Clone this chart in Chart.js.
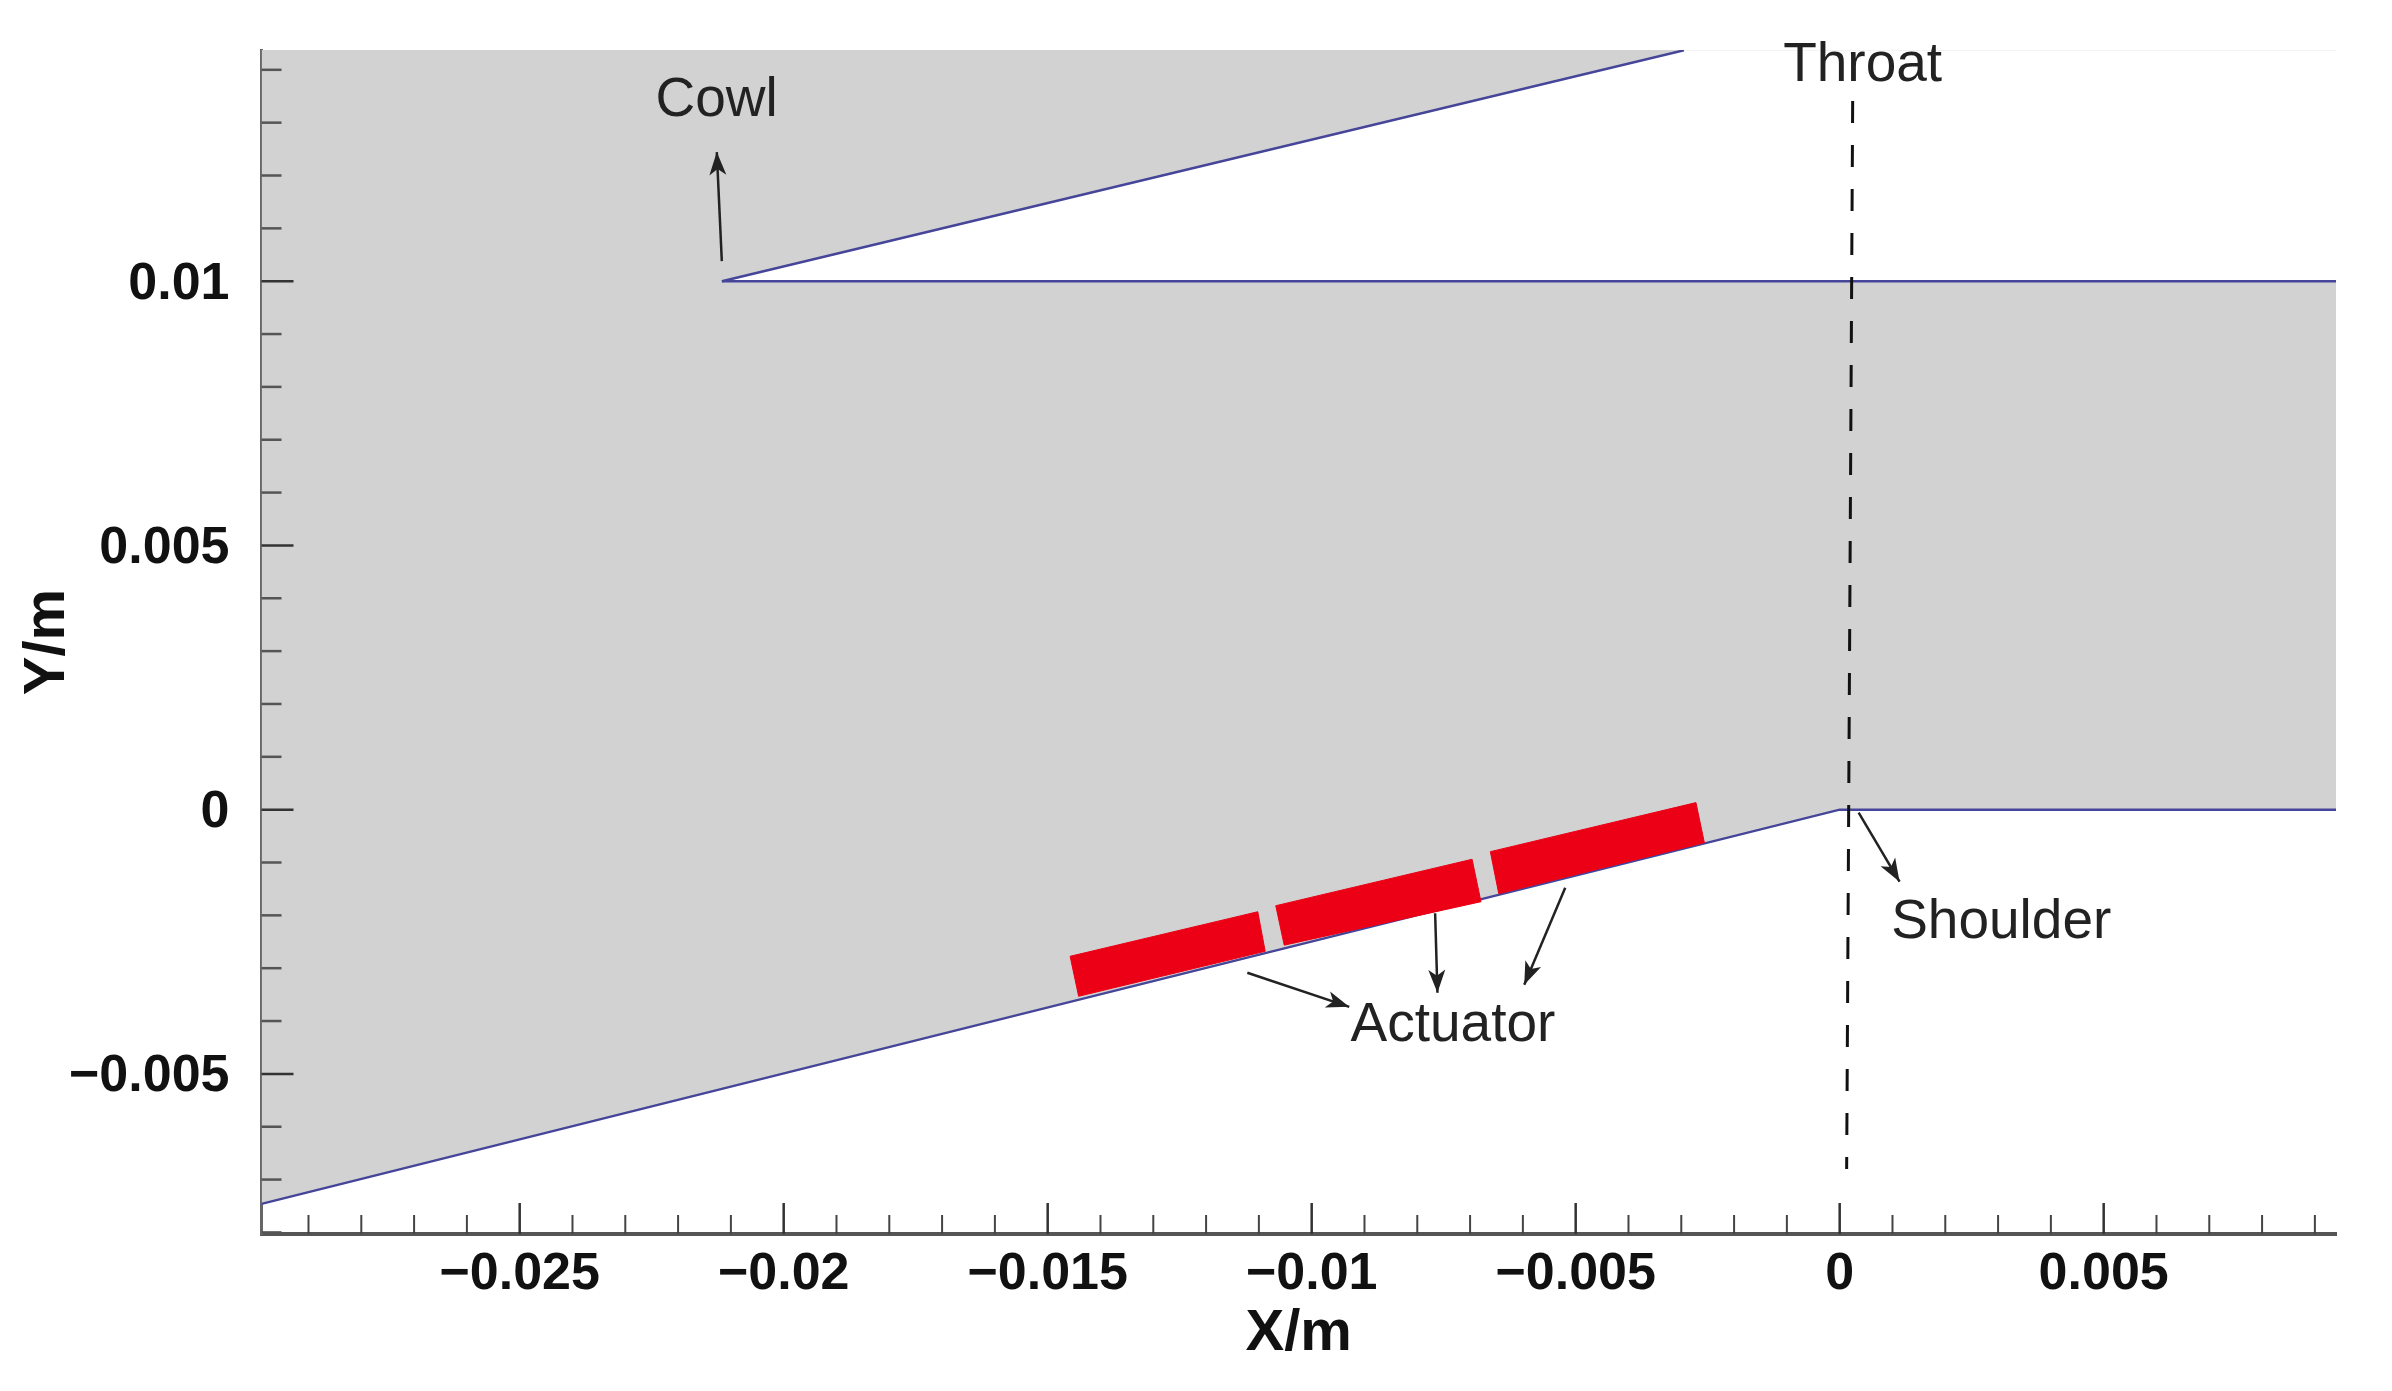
<!DOCTYPE html>
<html>
<head>
<meta charset="utf-8">
<title>Inlet geometry</title>
<script src="https://cdn.jsdelivr.net/npm/chart.js@4/dist/chart.umd.js"></script>
<style>
  html, body { margin: 0; padding: 0; background: #fff; }
  canvas { display: block; }
</style>
</head>
<body>
<canvas id="myChart" width="2392" height="1391"></canvas>
<script>
// axis range and ticks
const xRange = [-0.02989, 0.0094];
const yRange = [-0.00803, 0.014375];
const xMajor = [-0.025, -0.02, -0.015, -0.01, -0.005, 0, 0.005];
const yMajor = [-0.005, 0, 0.005, 0.01];
const xMinor = [-0.029, -0.028, -0.027, -0.026, -0.024, -0.023, -0.022, -0.021, -0.019, -0.018, -0.017, -0.016,
    -0.014, -0.013, -0.012, -0.011, -0.009, -0.008, -0.007, -0.006, -0.004, -0.003, -0.002, -0.001,
    0.001, 0.002, 0.003, 0.004, 0.006, 0.007, 0.008, 0.009];
const yMinor = [-0.008, -0.007, -0.006, -0.004, -0.003, -0.002, -0.001, 0.001, 0.002, 0.003, 0.004,
    0.006, 0.007, 0.008, 0.009, 0.011, 0.012, 0.013, 0.014];

// walls
const lowerWallX = [-0.02989, 0, 0.0094];
const lowerWallY = [-0.00746, 0, 0];
const cowlX = [-0.02117, -0.00295];
const cowlY = [0.01, 0.01437];
const ductTopX = [-0.02117, 0.0094];
const ductTopY = [0.01, 0.01];
const wedgeX = [-0.02117, -0.00295, 0.0094];
const wedgeY = [0.01, 0.01437, 0.01437];

// throat line
const throatX = [0.000246, 0.000132];
const throatY = [0.01341, -0.0068];

// actuators, corners in order BL, TL, TR, BR
const actuator1X = [-0.014414, -0.014575, -0.011021, -0.010881, -0.014414];
const actuator1Y = [-0.003532, -0.002775, -0.001932, -0.00268, -0.003532];
const actuator2X = [-0.01052, -0.01068, -0.006962, -0.006794, -0.01052];
const actuator2Y = [-0.002564, -0.001818, -0.000939, -0.001742, -0.002564];
const actuator3X = [-0.006457, -0.006616, -0.002722, -0.002563, -0.006457];
const actuator3Y = [-0.001591, -0.000795, 0.000133, -0.000625, -0.001591];

// arrows, tail then head
const arrowCowlX = [-0.021172, -0.021267];
const arrowCowlY = [0.010379, 0.012443];
const arrowShoulderX = [0.000359, 0.001134];
const arrowShoulderY = [-0.000057, -0.001364];
const arrowAct1X = [-0.011219, -0.009289];
const arrowAct1Y = [-0.003087, -0.003731];
const arrowAct2X = [-0.007662, -0.007618];
const arrowAct2Y = [-0.00196, -0.003466];
const arrowAct3X = [-0.005198, -0.005974];
const arrowAct3Y = [-0.001477, -0.003314];

// text labels
const noteLabels = ['Cowl', 'Throat', 'Actuator', 'Shoulder'];
const noteX = [-0.02127, 0.000435, -0.007325, 0.00306];
const noteY = [0.013404, 0.014067, -0.004087, -0.00214];

const toPoints = (xs, ys) => xs.map((x, i) => ({ x: x, y: ys[i] }));

const wallColor = '#45459a';
const lineSet = (xs, ys, extra) => Object.assign({
    data: toPoints(xs, ys),
    showLine: true,
    pointRadius: 0,
    borderWidth: 2.5,
    borderColor: wallColor,
    backgroundColor: 'transparent',
    fill: false
}, extra);

const arrowSet = (xs, ys) => lineSet(xs, ys, { borderColor: '#222', borderWidth: 2.5, isArrow: true, order: 1 });
const actuatorSet = (xs, ys) => lineSet(xs, ys, {
    borderColor: '#ec0016', borderWidth: 1, backgroundColor: '#ec0016', fill: 'shape', order: 3
});

const formatTick = (v) => {
    if (Math.abs(v) < 1e-9) return '0';
    return (v < 0 ? '\u2212' : '') + String(Math.abs(Number(v.toFixed(3))));
};

// inward tick marks and arrow heads and the notes, all placed through the scales
const overlayPlugin = {
    id: 'overlay',
    afterDatasetsDraw(chart) {
        const ctx = chart.ctx;
        const xs = chart.scales.x;
        const ys = chart.scales.y;
        const area = chart.chartArea;
        ctx.save();

        const tick = (x1, y1, x2, y2, color, width) => {
            ctx.strokeStyle = color;
            ctx.lineWidth = width;
            ctx.beginPath();
            ctx.moveTo(x1, y1);
            ctx.lineTo(x2, y2);
            ctx.stroke();
        };
        xMajor.forEach(v => { const p = xs.getPixelForValue(v); tick(p, area.bottom, p, area.bottom - 31, '#333', 2.5); });
        xMinor.forEach(v => { const p = xs.getPixelForValue(v); tick(p, area.bottom, p, area.bottom - 19, '#444', 2); });
        yMajor.forEach(v => { const p = ys.getPixelForValue(v); tick(area.left, p, area.left + 32, p, '#333', 2.5); });
        yMinor.forEach(v => { const p = ys.getPixelForValue(v); tick(area.left, p, area.left + 20, p, '#555', 2.5); });

        chart.data.datasets.forEach(ds => {
            if (!ds.isArrow) return;
            const a = ds.data[0];
            const b = ds.data[1];
            const hx = xs.getPixelForValue(b.x);
            const hy = ys.getPixelForValue(b.y);
            const ang = Math.atan2(hy - ys.getPixelForValue(a.y), hx - xs.getPixelForValue(a.x));
            ctx.save();
            ctx.translate(hx, hy);
            ctx.rotate(ang);
            ctx.fillStyle = '#222';
            ctx.beginPath();
            ctx.moveTo(0, 0);
            ctx.lineTo(-23, -8.5);
            ctx.lineTo(-17, 0);
            ctx.lineTo(-23, 8.5);
            ctx.closePath();
            ctx.fill();
            ctx.restore();
        });

        ctx.font = '55px "Liberation Sans"';
        ctx.fillStyle = '#222';
        ctx.textAlign = 'center';
        ctx.textBaseline = 'middle';
        noteLabels.forEach((t, i) => {
            ctx.fillText(t, xs.getPixelForValue(noteX[i]), ys.getPixelForValue(noteY[i]));
        });
        ctx.restore();
    }
};

new Chart(document.getElementById('myChart'), {
    type: 'scatter',
    data: {
        datasets: [
            arrowSet(arrowCowlX, arrowCowlY),
            arrowSet(arrowShoulderX, arrowShoulderY),
            arrowSet(arrowAct1X, arrowAct1Y),
            arrowSet(arrowAct2X, arrowAct2Y),
            arrowSet(arrowAct3X, arrowAct3Y),
            lineSet(throatX, throatY, { borderColor: '#111', borderWidth: 3, borderDash: [22, 22], order: 2 }),
            actuatorSet(actuator1X, actuator1Y),
            actuatorSet(actuator2X, actuator2Y),
            actuatorSet(actuator3X, actuator3Y),
            lineSet(cowlX, cowlY, { order: 4 }),
            lineSet(ductTopX, ductTopY, { order: 4 }),
            lineSet(wedgeX, wedgeY, { borderWidth: 0, borderColor: 'transparent', backgroundColor: '#fff', fill: { value: 0.01 }, order: 5 }),
            lineSet(lowerWallX, lowerWallY, { backgroundColor: '#d2d2d2', fill: 'end', order: 6 })
        ]
    },
    options: {
        responsive: false,
        animation: false,
        events: [],
        layout: { padding: { top: 50, right: 56, left: 0, bottom: 0 } },
        plugins: { legend: { display: false }, title: { display: false }, tooltip: { enabled: false } },
        scales: {
            x: {
                type: 'linear',
                min: xRange[0],
                max: xRange[1],
                afterBuildTicks: (s) => { s.ticks = xMajor.map(v => ({ value: v })); },
                afterFit: (s) => { s.height = 157; s.paddingLeft = 0; s.paddingRight = 0; },
                grid: { display: false, drawTicks: false },
                border: { display: true, color: '#555', width: 4 },
                ticks: {
                    autoSkip: false, maxRotation: 0, padding: 9, color: '#111',
                    font: { family: '"Liberation Sans"', size: 52, weight: 'bold' },
                    callback: formatTick
                },
                title: {
                    display: true, text: 'X/m', color: '#111',
                    font: { family: '"Liberation Sans"', size: 58, weight: 'bold' },
                    padding: { top: 0, bottom: 22 }
                }
            },
            y: {
                type: 'linear',
                min: yRange[0],
                max: yRange[1],
                afterBuildTicks: (s) => { s.ticks = yMajor.map(v => ({ value: v })); },
                afterFit: (s) => { s.width = 261.5; s.paddingTop = 0; s.paddingBottom = 0; },
                grid: { display: false, drawTicks: false },
                border: { display: true, color: '#666', width: 3 },
                ticks: {
                    autoSkip: false, padding: 32, labelOffset: 3, color: '#111',
                    font: { family: '"Liberation Sans"', size: 52, weight: 'bold' },
                    callback: formatTick
                },
                title: {
                    display: true, text: 'Y/m', color: '#111',
                    font: { family: '"Liberation Sans"', size: 58, weight: 'bold' },
                    padding: { top: 13, bottom: 0 }
                }
            }
        }
    },
    plugins: [overlayPlugin]
});
</script>
</body>
</html>
